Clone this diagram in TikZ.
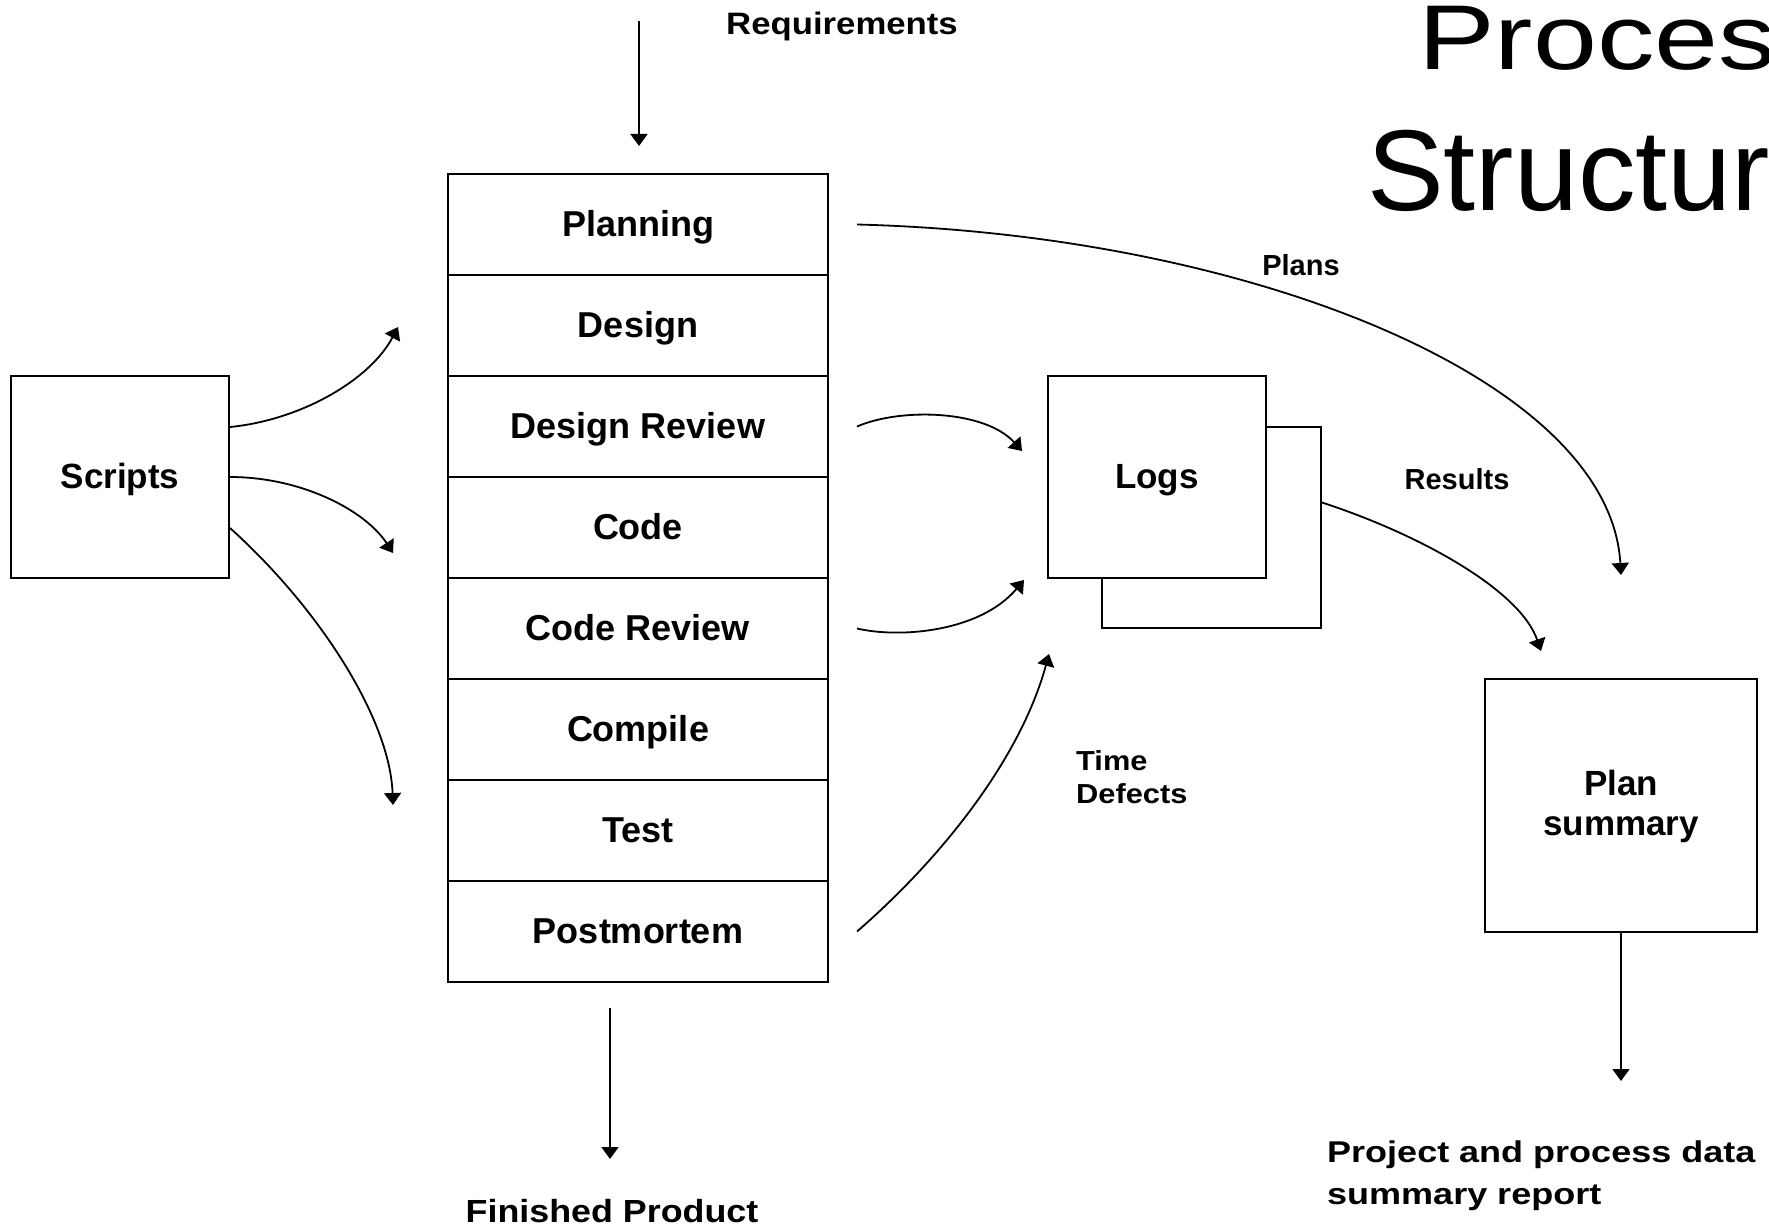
\documentclass[tikz,border=0pt]{standalone}
\usepackage{fontspec}
\usepackage{graphicx}
\setmainfont{Liberation Sans}
\newfontfamily\widerfont{Liberation Sans}[FakeStretch=1.12]
\newfontfamily\widestfont{Liberation Sans}[FakeStretch=1.2]
\usetikzlibrary{arrows.meta}

\begin{document}
\begin{tikzpicture}[x=1pt,y=-1pt,
  box/.style={draw, line width=2pt, inner sep=0pt, fill=white},
  stage/.style={box, minimum width=380pt, minimum height=101pt,
    font=\fontsize{36}{40}\selectfont\bfseries, text height=30pt, text depth=7pt},
  bigbox/.style={box, font=\fontsize{35}{40}\selectfont\bfseries},
  flow/.style={line width=1.8pt, -{Triangle[length=12pt,width=17pt]}},
  lbl/.style={inner sep=0pt}
]
\useasboundingbox (0,0) rectangle (1769,1228);
\fill[white] (0,0) rectangle (1769,1228);
\clip (0,0) rectangle (1769,1228);

% title, running off the right edge
\node[lbl, anchor=base west, font=\fontsize{115}{115}\selectfont] (title1) at (1418,70) {\scalebox{1}[0.8]{Process}};
\node[lbl, anchor=base west, font=\fontsize{115}{115}\selectfont] (title2) at (1367,210) {Structure};

% process phases
\node[stage] (planning) at (638,224.5) {Planning};
\node[stage] (design)   at (638,325.5) {Design};
\node[stage] (dreview)  at (638,426.5) {Design Review};
\node[stage] (code)     at (638,527.5) {Code};
\node[stage] (creview)  at (638,628.5) {Code Review};
\node[stage] (compile)  at (638,729.5) {Compile};
\node[stage] (test)     at (638,830.5) {Test};
\node[stage] (post)     at (638,931.5) {Postmortem};

% side boxes
\node[bigbox, minimum width=218pt, minimum height=202pt, text height=30pt, text depth=7.4pt] (scripts) at (120,477) {Scripts};
\node[box, minimum width=219pt, minimum height=201pt] (logsback) at (1211.5,527.5) {};
\node[bigbox, minimum width=218pt, minimum height=202pt, text height=30pt, text depth=7.4pt] (logs) at (1157,477) {Logs};
\node[bigbox, minimum width=272pt, minimum height=253pt, align=center] (plansum) at (1621,805.5) {\rule{0pt}{28pt}Plan\\summary};

% labels
\node[lbl, anchor=base, font=\widerfont\fontsize{31}{36}\selectfont\bfseries] (req) at (842,35) {Requirements};
\node[lbl, anchor=base, font=\widerfont\fontsize{32}{36}\selectfont\bfseries] (fin) at (612,1222) {Finished Product};
\node[lbl, anchor=base, font=\fontsize{29}{34}\selectfont\bfseries] (plans) at (1301,275) {Plans};
\node[lbl, anchor=base, font=\fontsize{29}{34}\selectfont\bfseries] (results) at (1457,489) {Results};
\node[lbl, anchor=north west, align=left, font=\widerfont\fontsize{27.5}{33}\selectfont\bfseries] (timedef) at (1076,750) {Time\\Defects};
\node[lbl, anchor=north west, align=left, font=\widestfont\fontsize{30}{42}\selectfont\bfseries] (report) at (1327,1141) {Project and process data\\summary report};

% free ends of connectors
\coordinate (reqtop) at (639,21);
\coordinate (fpend) at (610,1159);
\coordinate (s1) at (398,327);
\coordinate (s2) at (393,553);
\coordinate (s3) at (393,805);
\coordinate (lin1) at (1022,451);
\coordinate (lin2) at (1024,580);
\coordinate (lin3) at (1049,654);
\coordinate (sumin1) at (1621,575);
\coordinate (sumin2) at (1541,651);
\coordinate (repin) at (1621,1081);

% connectors
\draw[flow] (reqtop) -- ([xshift=1pt,yshift=27pt]planning.north);
\draw[flow] ([xshift=-28pt,yshift=-25pt]post.south) -- (fpend);

\draw[flow] ([yshift=50pt]scripts.east) .. controls +(71,-7) and +(-28,53) .. (s1);
\draw[flow] (scripts.east) .. controls +(71,0) and +(-28,-43) .. (s2);
\draw[flow] ([yshift=-51pt]scripts.east) .. controls +(91,82) and +(-3,-85) .. (s3);

\draw[flow] ([xshift=28pt]dreview.east) .. controls +(44,-19) and +(-37,-41) .. (lin1);
\draw[flow] ([xshift=28pt]creview.east) .. controls +(43,10) and +(-44,52) .. (lin2);
\draw[flow] ([xshift=28pt]post.east) .. controls +(83,-72) and +(-29,106) .. (lin3);

\draw[flow] ([xshift=28pt]planning.east) .. controls +(393,10) and +(-11,-195) .. (sumin1);
\draw[flow] ([yshift=25pt]logsback.east) .. controls +(98,32) and +(-21,-61) .. (sumin2);
\draw[flow] (plansum.south) -- (repin);
\end{tikzpicture}
\end{document}
